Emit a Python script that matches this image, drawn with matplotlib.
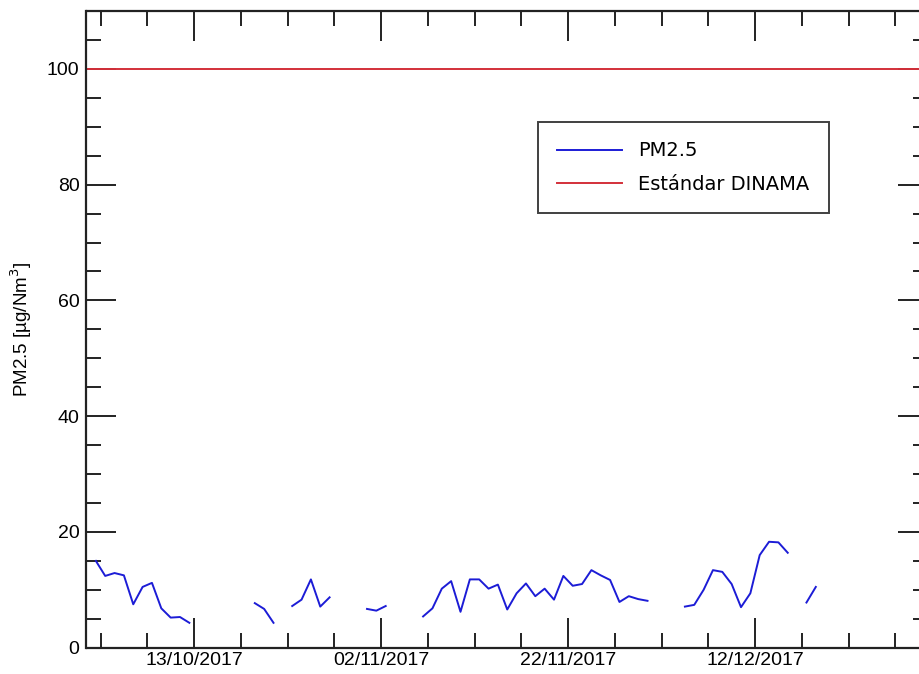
import numpy as np
import pandas as pd
import matplotlib
matplotlib.use("Agg")
import matplotlib.pyplot as plt
import matplotlib.dates as mdates
from matplotlib.ticker import MultipleLocator, FixedLocator

# Daily PM2.5 averages (ug/Nm3), one value per day starting 2017-10-02; NaN = no data
start_date = "2017-10-02 12:00"
pm25 = [
    15.0, 12.4, 12.9, 12.5, 7.5, 10.5, 11.2, 6.8, 5.2, 5.3,
    4.3, np.nan, np.nan, np.nan, np.nan, np.nan, np.nan, 7.7, 6.7, 4.3,
    np.nan, 7.2, 8.3, 11.8, 7.1, 8.7, np.nan, np.nan, np.nan, 6.7,
    6.4, 7.2, np.nan, np.nan, np.nan, 5.4, 6.8, 10.2, 11.5, 6.2,
    11.8, 11.8, 10.2, 10.9, 6.6, 9.4, 11.1, 8.9, 10.2, 8.3,
    12.4, 10.7, 11.0, 13.4, 12.5, 11.7, 7.9, 8.9, 8.4, 8.1,
    np.nan, np.nan, np.nan, 7.1, 7.4, 10.0, 13.4, 13.1, 11.0, 7.0,
    9.4, 16.0, 18.3, 18.2, 16.4, np.nan, 7.8, 10.5,
]
standard_dinama = 100

x_range = ["2017-10-01 12:00", "2017-12-30 12:00"]
major_tick_dates = ["2017-10-13", "2017-11-02", "2017-11-22", "2017-12-12"]
minor_tick_start = "2017-10-03"

plt.rcParams["font.family"] = ["Liberation Sans", "DejaVu Sans"]

dates = pd.date_range(start_date, periods=len(pm25), freq="D")

fig = plt.figure(figsize=(9.2, 6.74), dpi=100)
ax = fig.add_axes([86.5 / 920, 26.3 / 674, (928 - 86.5) / 920, (647.7 - 11) / 674])

ax.plot(dates, pm25, color="#1c1cd6", lw=1.4, label="PM2.5")
ax.axhline(standard_dinama, color="#d3303a", lw=1.4, label="Estándar DINAMA")

xmin, xmax = pd.to_datetime(x_range)
ax.set_xlim(xmin, xmax)
ax.set_ylim(0, 110)

ax.xaxis.set_major_locator(FixedLocator(mdates.date2num(pd.to_datetime(major_tick_dates))))
ax.xaxis.set_minor_locator(FixedLocator(mdates.date2num(
    pd.date_range(minor_tick_start, xmax, freq="5D"))))
ax.xaxis.set_major_formatter(mdates.DateFormatter("%d/%m/%Y"))
ax.yaxis.set_major_locator(MultipleLocator(20))
ax.yaxis.set_minor_locator(MultipleLocator(5))

ax.tick_params(which="both", direction="in", top=True, right=True,
               width=1.4, color="#222222")
ax.tick_params(which="major", length=21.6)
ax.tick_params(which="minor", length=10.8)
ax.tick_params(axis="x", which="major", pad=3, labelsize=14)
ax.tick_params(axis="y", which="major", pad=5, labelsize=14)

for sp in ax.spines.values():
    sp.set_linewidth(1.6)
    sp.set_color("#222222")

ax.set_ylabel("PM2.5 [µg/Nm$^3$]", fontsize=13.5, labelpad=9)

leg = ax.legend(loc="upper left", bbox_to_anchor=(538 / 920, 1 - 122 / 674),
                bbox_transform=fig.transFigure, borderaxespad=0,
                fancybox=False, frameon=True,
                prop={"family": "DejaVu Sans", "size": 14},
                handlelength=3.3, handletextpad=0.85, borderpad=1.0,
                labelspacing=0.75)
leg.get_frame().set_edgecolor("#111111")
leg.get_frame().set_linewidth(1.4)

fig.savefig("out.png", dpi=100)
